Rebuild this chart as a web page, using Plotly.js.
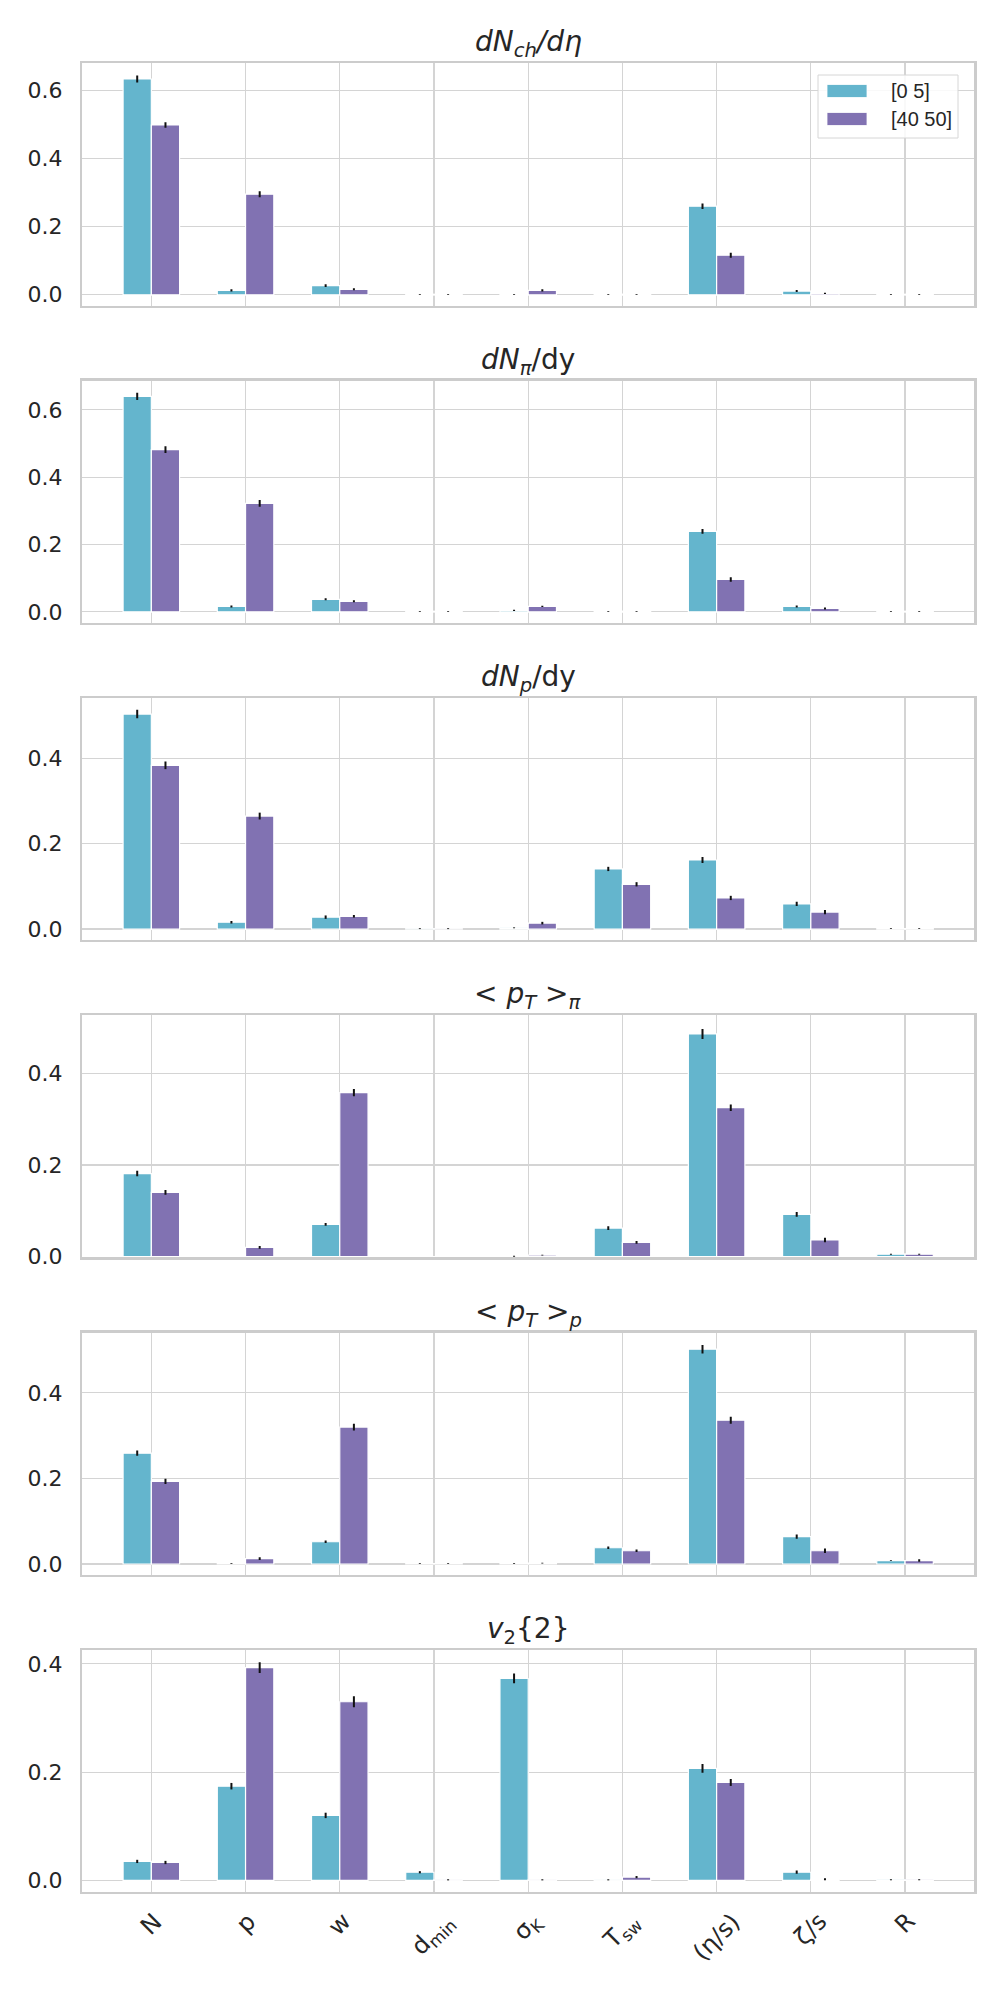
<!DOCTYPE html>
<html>
<head>
<meta charset="utf-8">
<script src="https://cdn.plot.ly/plotly-3.0.1.min.js"></script>
<style>html,body{margin:0;padding:0;background:#fff;}#chart{width:1000px;height:2000px;}</style>
</head>
<body>
<div id="chart"></div>
<script>
// ---- data ----
const categories = ['N','p','w','d_min','sigma_K','T_sw','eta/s','zeta/s','R'];
const tickLabels = ['N','p','w','d<sub>min</sub>','σ<sub>K</sub>','T<sub>sw</sub>','(η/s)','ζ/s','R'];
const seriesNames = ['[0 5]','[40 50]'];
const panelTitles = [
  '<i>dN</i><sub><i>ch</i></sub><i>/dη</i>',
  '<i>dN</i><sub><i>π</i></sub>/dy',
  '<i>dN</i><sub><i>p</i></sub>/dy',
  '&lt; <i>p</i><sub><i>T</i></sub> &gt;<sub><i>π</i></sub>',
  '&lt; <i>p</i><sub><i>T</i></sub> &gt;<sub><i>p</i></sub>',
  '<i>v</i><sub>2</sub>{2}'
];

const dNch_c   = [0.633, 0.013, 0.027, 0.001, 0.001, 0.001, 0.260, 0.011, 0.001];
const dNch_ce  = [0.010, 0.003, 0.004, 0.001, 0.001, 0.001, 0.008, 0.003, 0.001];
const dNch_m   = [0.498, 0.295, 0.016, 0.001, 0.013, 0.001, 0.116, 0.004, 0.001];
const dNch_me  = [0.008, 0.009, 0.003, 0.001, 0.003, 0.001, 0.007, 0.002, 0.001];

const dNpi_c   = [0.640, 0.016, 0.037, 0.001, 0.004, 0.001, 0.239, 0.016, 0.001];
const dNpi_ce  = [0.011, 0.003, 0.003, 0.001, 0.002, 0.001, 0.007, 0.003, 0.001];
const dNpi_m   = [0.482, 0.322, 0.031, 0.001, 0.016, 0.001, 0.096, 0.010, 0.001];
const dNpi_me  = [0.010, 0.010, 0.003, 0.001, 0.002, 0.001, 0.007, 0.003, 0.001];

const dNp_c    = [0.504, 0.016, 0.028, 0.001, 0.003, 0.141, 0.162, 0.059, 0.001];
const dNp_ce   = [0.010, 0.003, 0.004, 0.001, 0.001, 0.005, 0.007, 0.005, 0.001];
const dNp_m    = [0.384, 0.265, 0.030, 0.001, 0.014, 0.105, 0.073, 0.040, 0.001];
const dNp_me   = [0.009, 0.008, 0.003, 0.001, 0.003, 0.005, 0.005, 0.005, 0.001];

const ptpi_c   = [0.181, 0.000, 0.070, 0.000, 0.0005, 0.062, 0.486, 0.092, 0.005];
const ptpi_ce  = [0.006, 0.000, 0.003, 0.000, 0.001, 0.004, 0.011, 0.005, 0.001];
const ptpi_m   = [0.140, 0.020, 0.358, 0.000, 0.003, 0.031, 0.325, 0.036, 0.005];
const ptpi_me  = [0.005, 0.003, 0.008, 0.000, 0.001, 0.003, 0.007, 0.005, 0.001];

const ptp_c    = [0.259, 0.001, 0.052, 0.001, 0.001, 0.038, 0.502, 0.064, 0.008];
const ptp_ce   = [0.006, 0.001, 0.003, 0.001, 0.001, 0.003, 0.010, 0.005, 0.001];
const ptp_m    = [0.193, 0.0125, 0.320, 0.001, 0.002, 0.031, 0.336, 0.031, 0.008];
const ptp_me   = [0.006, 0.003, 0.008, 0.001, 0.001, 0.003, 0.008, 0.005, 0.003];

const v22_c    = [0.035, 0.174, 0.120, 0.015, 0.373, 0.001, 0.207, 0.015, 0.001];
const v22_ce   = [0.003, 0.006, 0.005, 0.002, 0.009, 0.001, 0.008, 0.003, 0.001];
const v22_m    = [0.033, 0.393, 0.330, 0.001, 0.001, 0.006, 0.181, 0.002, 0.001];
const v22_me   = [0.003, 0.010, 0.010, 0.001, 0.001, 0.002, 0.0065, 0.002, 0.001];

const yRanges = [[-0.0314,0.679],[-0.0327,0.687],[-0.0258,0.542],[-0.002,0.527],[-0.025,0.541],[-0.0215,0.426]];
const yTicks  = [[0,0.2,0.4,0.6],[0,0.2,0.4,0.6],[0,0.2,0.4],[0,0.2,0.4],[0,0.2,0.4],[0,0.2,0.4]];

// ---- build ----
const panels = [
  [dNch_c,dNch_ce,dNch_m,dNch_me],
  [dNpi_c,dNpi_ce,dNpi_m,dNpi_me],
  [dNp_c,dNp_ce,dNp_m,dNp_me],
  [ptpi_c,ptpi_ce,ptpi_m,ptpi_me],
  [ptp_c,ptp_ce,ptp_m,ptp_me],
  [v22_c,v22_ce,v22_m,v22_me]
];
const colors = ['#64B5CD','#8172B2'];
const W = 1000, H = 2000;
const left = 82, right = 974.4, top0 = 63.3, step = 317.3, ph = 242.2;
const xIdx = categories.map((c,i)=>i);
const txt = '#262626';

const traces = [];
const layout = {
  width: W, height: H,
  margin: {l:0, r:0, t:0, b:0},
  paper_bgcolor: '#ffffff', plot_bgcolor: '#ffffff',
  barmode: 'group', bargap: 0.4, bargroupgap: 0,
  font: {family: 'Liberation Sans, Arial, sans-serif', color: txt},
  showlegend: false,
  annotations: [], shapes: []
};

panels.forEach((p, k) => {
  const ax = k === 0 ? '' : String(k+1);
  const yTop = 1 - (top0 + k*step)/H;
  const yBot = 1 - (top0 + k*step + ph)/H;
  [0,1].forEach(s => {
    traces.push({
      type: 'bar', x: xIdx, y: p[2*s], name: seriesNames[s],
      xaxis: 'x'+ax, yaxis: 'y'+ax,
      marker: {color: colors[s], line: {color: '#ffffff', width: 1.2}},
      error_y: {type: 'data', array: p[2*s+1], visible: true, color: '#111111', thickness: 2, width: 0},
      hoverinfo: 'skip'
    });
  });
  layout['xaxis'+ax] = {
    domain: [left/W, right/W], anchor: 'y'+ax, range: [-0.736, 8.736],
    tickvals: xIdx, showticklabels: false, ticks: '',
    showgrid: true, gridcolor: '#d4d4d4', gridwidth: 1.2, zeroline: false,
    showline: true, mirror: true, linecolor: '#cccccc', linewidth: 2.2
  };
  layout['yaxis'+ax] = {
    domain: [yBot, yTop], anchor: 'x'+ax, range: yRanges[k],
    tickvals: yTicks[k], tickformat: '.1f', ticks: '', ticklabelstandoff: 13,
    tickfont: {size: 22, family: 'DejaVu Sans, sans-serif', color: txt},
    showgrid: true, gridcolor: '#d4d4d4', gridwidth: 1.2, zeroline: false,
    showline: true, mirror: true, linecolor: '#cccccc', linewidth: 2.2
  };
  layout.annotations.push({
    text: panelTitles[k], xref: 'paper', yref: 'paper',
    x: (left+right)/2/W, y: yTop, xanchor: 'center', yanchor: 'bottom',
    yshift: 0, showarrow: false, borderpad: 0,
    font: {size: 28, family: 'DejaVu Sans, sans-serif', color: txt}
  });
});

// rotated category labels under the last panel
const lastBot = 1 - (top0 + 5*step + ph)/H;
xIdx.forEach((xi, i) => {
  layout.annotations.push({
    text: tickLabels[i], xref: 'x6', yref: 'paper', x: xi, y: lastBot,
    xanchor: 'center', yanchor: 'top', yshift: -14, textangle: -45,
    showarrow: false, borderpad: 0,
    font: {size: 24, family: 'DejaVu Sans, sans-serif', color: txt}
  });
});

// legend (box, colour patches, labels) in the first panel
const lg = {x0: 818, x1: 958, y0: 75, y1: 138, rowY: [91, 119], hx0: 827, hx1: 867, hh: 13, tx: 889};
layout.shapes.push({type: 'rect', xref: 'paper', yref: 'paper', layer: 'above',
  x0: lg.x0/W, x1: lg.x1/W, y0: 1 - lg.y1/H, y1: 1 - lg.y0/H,
  fillcolor: 'rgba(255,255,255,0.85)', line: {color: '#d6d6d6', width: 1}});
seriesNames.forEach((nm, s) => {
  const cy = lg.rowY[s];
  layout.shapes.push({type: 'rect', xref: 'paper', yref: 'paper', layer: 'above',
    x0: lg.hx0/W, x1: lg.hx1/W, y0: 1 - (cy + lg.hh/2)/H, y1: 1 - (cy - lg.hh/2)/H,
    fillcolor: colors[s], line: {color: '#ffffff', width: 0.8}});
  layout.annotations.push({text: nm, xref: 'paper', yref: 'paper',
    x: lg.tx/W, y: 1 - cy/H, xanchor: 'left', yanchor: 'middle', showarrow: false,
    font: {size: 20, family: 'Liberation Sans, Arial, sans-serif', color: txt}});
});

Plotly.newPlot('chart', traces, layout, {displayModeBar: false, staticPlot: true});
</script>
</body>
</html>
